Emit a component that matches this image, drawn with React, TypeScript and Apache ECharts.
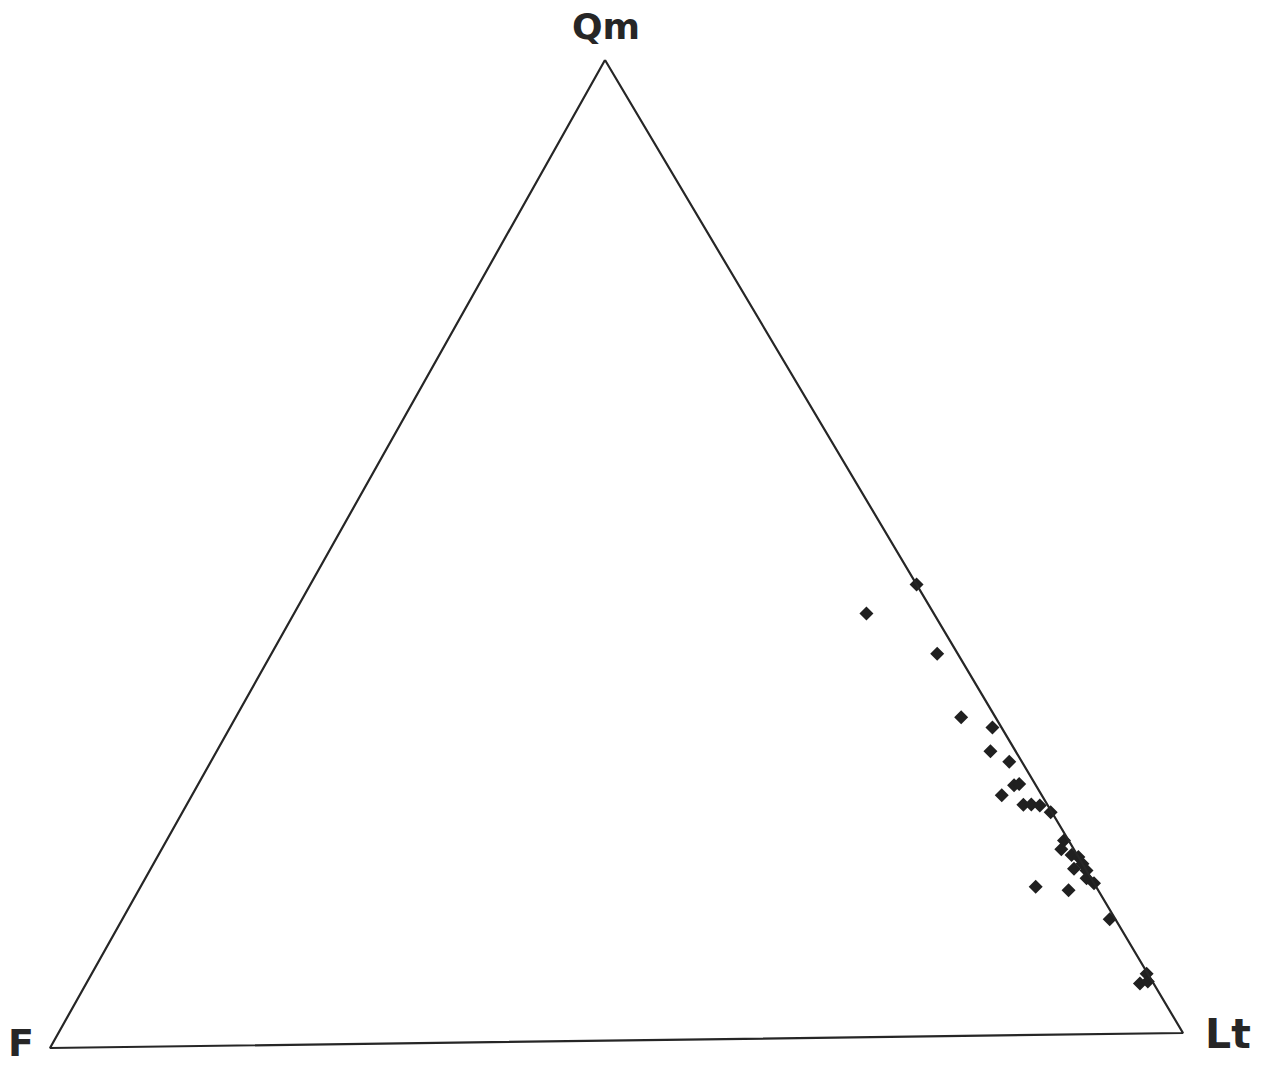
import React, { useEffect, useRef } from "react";
import * as echarts from "echarts";

// Ternary compositions (percent): Qm, F, Lt
const sampleQm = [46.1, 43.2, 39.0, 32.5, 31.4, 29.0, 27.9, 25.5, 25.6, 24.5, 23.5, 23.5, 23.4, 22.7, 19.8, 18.9, 18.3, 18.1, 17.4, 16.9, 16.7, 15.9, 15.4, 15.1, 14.7, 11.7, 6.1, 5.1, 5.3];
const sampleF = [0.0, 5.9, 1.8, 3.0, 0.8, 2.2, 1.1, 1.9, 1.4, 3.5, 2.1, 1.4, 0.7, 0.1, 0.4, 1.1, 0.5, 0.0, 0.0, 1.0, 0.0, 0.4, 0.0, 5.3, 2.6, 0.5, 0.1, 1.2, 0.4];
const sampleLt = [53.9, 50.9, 59.2, 64.5, 67.8, 68.8, 71.0, 72.6, 73.0, 72.0, 74.4, 75.1, 75.9, 77.2, 79.8, 80.0, 81.2, 81.9, 82.6, 82.1, 83.3, 83.7, 84.6, 79.6, 82.7, 87.8, 93.8, 93.7, 94.3];

const vertexLabels = ["Qm", "F", "Lt"];

// Layout: corner positions of the triangle in the plotting frame
const W = 1261;
const H = 1067;
const CORNER_QM = [605, 60];
const CORNER_F = [50, 1048];
const CORNER_LT = [1183, 1033];

function ternaryToXY(q: number, f: number, l: number): [number, number] {
  const s = q + f + l;
  const a = q / s, b = f / s, c = l / s;
  return [
    a * CORNER_QM[0] + b * CORNER_F[0] + c * CORNER_LT[0],
    a * CORNER_QM[1] + b * CORNER_F[1] + c * CORNER_LT[1],
  ];
}

export default function App() {
  const ref = useRef<HTMLDivElement>(null);
  useEffect(() => {
    if (!ref.current) return;
    const chart = echarts.init(ref.current, undefined, { renderer: "svg" });
    const points = sampleQm.map((q, i) => ternaryToXY(q, sampleF[i], sampleLt[i]));
    const frame = [
      ternaryToXY(100, 0, 0),
      ternaryToXY(0, 100, 0),
      ternaryToXY(0, 0, 100),
      ternaryToXY(100, 0, 0),
    ];
    const labelFont = "'DejaVu Sans', sans-serif";
    chart.setOption({
      animation: false,
      backgroundColor: "#ffffff",
      grid: { left: 0, right: 0, top: 0, bottom: 0 },
      xAxis: { type: "value", min: 0, max: W, show: false },
      yAxis: { type: "value", min: 0, max: H, inverse: true, show: false },
      series: [
        {
          type: "line",
          data: frame,
          symbol: "none",
          lineStyle: { color: "#262626", width: 2.2 },
          silent: true,
        },
        {
          type: "scatter",
          data: points,
          symbol: "diamond",
          symbolSize: 14,
          itemStyle: { color: "#202020", opacity: 1 },
        },
      ],
      graphic: [
        {
          type: "text",
          x: 606,
          y: 26,
          style: {
            text: vertexLabels[0],
            font: `bold 36px ${labelFont}`,
            fill: "#262626",
            align: "center",
            verticalAlign: "middle",
            lineHeight: 36,
          },
        },
        {
          type: "text",
          x: 8,
          y: 1043,
          style: {
            text: vertexLabels[1],
            font: `bold 38px ${labelFont}`,
            fill: "#262626",
            align: "left",
            verticalAlign: "middle",
            lineHeight: 30,
          },
        },
        {
          type: "text",
          x: 1205,
          y: 1034,
          style: {
            text: vertexLabels[2],
            font: `bold 41px ${labelFont}`,
            fill: "#262626",
            align: "left",
            verticalAlign: "middle",
            lineHeight: 34,
          },
        },
      ],
    });
    return () => chart.dispose();
  }, []);
  return (
    <div
      ref={ref}
      style={{ position: "fixed", left: 0, top: 0, width: W, height: H, background: "#fff" }}
    />
  );
}
